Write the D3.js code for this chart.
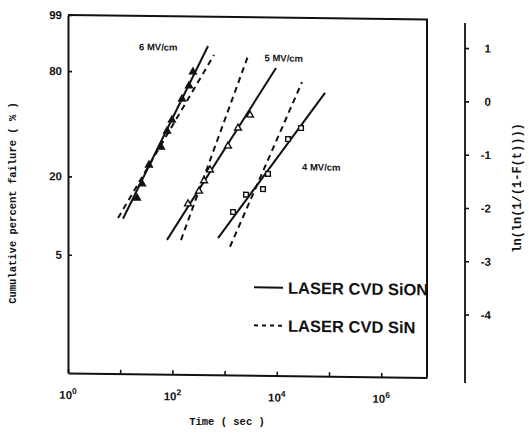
<!DOCTYPE html>
<html>
<head>
<meta charset="utf-8">
<script src="https://cdn.jsdelivr.net/npm/d3@7"></script>
<style>
  html, body { margin: 0; padding: 0; background: #fff; }
  svg { display: block; }
  .tick line { stroke: #111; stroke-width: 1.6; }
  .domain { stroke: #111; stroke-width: 2; }
</style>
</head>
<body>
<svg id="chart" width="529" height="439"></svg>
<script>
// Weibull plot of time-dependent dielectric breakdown for laser CVD films.
const fieldLabels = ["6 MV/cm", "5 MV/cm", "4 MV/cm"];
const fieldLabelTime = [22.9, 5800, 30400];
const fieldLabelPct = [92.4, 88.4, 24.5];

// Fitted Weibull lines: [start, end] time (sec) and cumulative failure (%)
const fitSiONTime = [[11.3, 481], [78.8, 9660], [748, 83800]];
const fitSiONPct  = [[9.7, 93.0], [6.7, 83.3], [7.0, 67.8]];
const fitSiNTime  = [[9.08, 627], [146, 2806], [1268, 30400]];
const fitSiNPct   = [[9.8, 89.5], [6.7, 89.2], [6.0, 74.9]];

// Measured breakdown points
const pointTimes6 = [21.0, 26.2, 35.6, 60.5, 79, 98, 153, 208, 248];
const pointPct6   = [14.0, 17.9, 24.5, 32.6, 41.4, 48.2, 62.4, 71.5, 80.4];
const pointTimes5 = [199, 323, 403, 525, 1161, 1806, 3067];
const pointPct5   = [12.8, 16.0, 19.1, 22.9, 33.6, 43.7, 52.1];
const pointTimes4 = [1449, 2570, 5440, 6780, 16400, 29100];
const pointPct4   = [11.2, 15.2, 16.8, 21.7, 37.7, 44.2];
const pointShapes = ["triangleFilled", "triangle", "square"];

// Axis ticks
const timeTicks = [1, 1e1, 1e2, 1e3, 1e4, 1e5, 1e6];
const timeLabelExp = [0, 2, 4, 6];
const percentTicks = [99, 80, 20, 5];
const weibullTicks = [1, 0, -1, -2, -3, -4];
const legendLabels = ["LASER CVD SiON", "LASER CVD SiN"];

const weib = p => Math.log(-Math.log(1 - p / 100));

const plot = { left: 68, right: 427, top: 15, bottom: 373 };
const skew = 0.0125;

const svg = d3.select("#chart");
const g = svg.append("g")
  .attr("transform", `matrix(1,${skew},0,1,0,${-skew * plot.left})`);

const x = d3.scaleLog()
  .domain([1, Math.pow(10, 6.877)])
  .range([plot.left, plot.right]);
const y = d3.scaleLinear()
  .domain([-5.19, weib(99)])
  .range([plot.bottom, plot.top]);

const ink = "#111";
const boldSans = "'Liberation Sans', Arial, sans-serif";
const mono = "'Liberation Mono', 'DejaVu Sans Mono', monospace";

// Frame: top and right edges
g.append("path")
  .attr("d", `M${plot.left},${plot.top}H${plot.right}V${plot.bottom}`)
  .attr("fill", "none").attr("stroke", ink).attr("stroke-width", 2);

// Left axis (cumulative percent)
const leftAxis = g.append("g")
  .attr("transform", `translate(${plot.left},0)`)
  .call(d3.axisLeft(y)
    .tickValues(percentTicks.map(weib))
    .tickFormat((d, i) => String(percentTicks[i]))
    .tickSize(-4).tickSizeOuter(0).tickPadding(6));
leftAxis.selectAll("text")
  .attr("font-family", boldSans).attr("font-weight", "bold")
  .attr("font-size", 11.5).attr("fill", ink);

// Bottom axis (time)
g.append("g")
  .attr("transform", `translate(0,${plot.bottom})`)
  .call(d3.axisBottom(x).tickValues(timeTicks).tickFormat("")
    .tickSize(-4).tickSizeOuter(0));

const xl = g.append("g").selectAll("text")
  .data(timeLabelExp).join("text")
  .attr("x", d => x(Math.pow(10, d)))
  .attr("y", plot.bottom + 26)
  .attr("text-anchor", "middle")
  .attr("font-family", boldSans).attr("font-weight", "bold")
  .attr("font-size", 11.5).attr("fill", ink);
xl.append("tspan").text("10");
xl.append("tspan").attr("dy", -5).attr("font-size", 8.5).text(d => d);

// Right axis: ln(ln(1/(1-F)))
const axisX = 465;
g.append("line")
  .attr("x1", axisX).attr("x2", axisX)
  .attr("y1", plot.top + 3).attr("y2", plot.bottom + 5)
  .attr("stroke", ink).attr("stroke-width", 1.8);
const rightAxis = g.append("g")
  .attr("transform", `translate(${axisX},0)`)
  .call(d3.axisRight(y).tickValues(weibullTicks)
    .tickFormat(d => String(d)).tickSize(4).tickSizeOuter(0));
rightAxis.select(".domain").remove();
rightAxis.selectAll("text")
  .attr("x", 26).attr("text-anchor", "end")
  .attr("font-family", boldSans).attr("font-weight", "bold")
  .attr("font-size", 11.5).attr("fill", ink);

// Fitted lines
const line = d3.line().x(d => x(d[0])).y(d => y(weib(d[1])));
fieldLabels.forEach((f, i) => {
  g.append("path")
    .attr("d", line(fitSiONTime[i].map((t, j) => [t, fitSiONPct[i][j]])))
    .attr("fill", "none").attr("stroke", ink).attr("stroke-width", 2);
  g.append("path")
    .attr("d", line(fitSiNTime[i].map((t, j) => [t, fitSiNPct[i][j]])))
    .attr("fill", "none").attr("stroke", ink).attr("stroke-width", 2)
    .attr("stroke-dasharray", "6,4.5");
});

// Data points
const seriesTimes = [pointTimes6, pointTimes5, pointTimes4];
const seriesPct = [pointPct6, pointPct5, pointPct4];
const triSym = d3.symbol().type(d3.symbolTriangle).size(20);
const sqSym = d3.symbol().type(d3.symbolSquare).size(22);
seriesTimes.forEach((times, i) => {
  const shape = pointShapes[i];
  g.append("g").selectAll("path")
    .data(times.map((t, j) => [t, seriesPct[i][j]]))
    .join("path")
    .attr("transform", d => `translate(${x(d[0])},${y(weib(d[1]))})`)
    .attr("d", shape === "square" ? sqSym() : triSym())
    .attr("fill", shape === "triangleFilled" ? ink : "#fff")
    .attr("stroke", ink).attr("stroke-width", 1.4);
});

// Field labels
g.append("g").selectAll("text")
  .data(fieldLabels).join("text")
  .attr("x", (d, i) => x(fieldLabelTime[i]))
  .attr("y", (d, i) => y(weib(fieldLabelPct[i])))
  .attr("dy", "0.35em")
  .attr("font-family", boldSans).attr("font-weight", "bold")
  .attr("font-size", 9.5).attr("fill", ink)
  .text(d => d);

// Legend
const legend = g.append("g").attr("transform", "translate(254,285)");
legendLabels.forEach((lab, i) => {
  const row = legend.append("g").attr("transform", `translate(0,${i * 38})`);
  row.append("line").attr("x1", 0).attr("x2", 29)
    .attr("stroke", ink).attr("stroke-width", 2)
    .attr("stroke-dasharray", i === 0 ? null : "4,4");
  row.append("text").attr("x", 34).attr("dy", "0.36em")
    .attr("font-family", boldSans).attr("font-weight", "bold")
    .attr("font-size", 16.5).attr("fill", ink).text(lab);
});

// Axis titles
svg.append("text")
  .attr("transform", "translate(16,203) rotate(-90)")
  .attr("text-anchor", "middle")
  .attr("font-family", mono).attr("font-weight", "bold")
  .attr("font-size", 10.5).attr("fill", ink)
  .text("Cumulative percent failure ( % )");
svg.append("text")
  .attr("x", 227).attr("y", 425)
  .attr("text-anchor", "middle")
  .attr("font-family", mono).attr("font-weight", "bold")
  .attr("font-size", 10.5).attr("fill", ink)
  .text("Time ( sec )");
svg.append("text")
  .attr("transform", "translate(521,188) rotate(-90)")
  .attr("text-anchor", "middle")
  .attr("font-family", mono).attr("font-weight", "bold")
  .attr("font-size", 12).attr("fill", ink)
  .text("ln(ln(1/(1-F(t))))");
</script>
</body>
</html>
